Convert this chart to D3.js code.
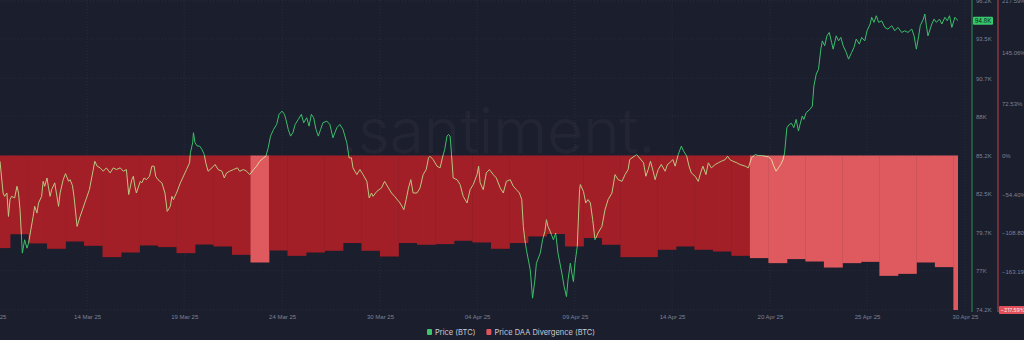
<!DOCTYPE html>
<html>
<head>
<meta charset="utf-8">
<script src="https://cdn.jsdelivr.net/npm/d3@7"></script>
<style>
  html, body { margin: 0; padding: 0; background: #1b1e2d; }
  svg { display: block; font-family: "Inter", "Roboto", sans-serif; }
</style>
</head>
<body>
<svg></svg>
<script>
// time window shown, UTC
const startTime = "2025-03-09T11:00:00Z";
const endTime   = "2025-04-30T06:00:00Z";

// x axis tick dates
const timeTicks = [
  "2025-03-09T01:00:00Z", "2025-03-14T04:00:00Z", "2025-03-19T10:00:00Z",
  "2025-03-24T17:00:00Z", "2025-03-30T00:00:00Z", "2025-04-04T06:00:00Z",
  "2025-04-09T13:00:00Z", "2025-04-14T19:00:00Z", "2025-04-20T02:00:00Z",
  "2025-04-25T08:00:00Z", "2025-04-30T15:00:00Z"
];

const priceTicks = [74.2, 77, 79.7, 82.5, 85.2, 88, 90.7, 93.5, 96.2];
const divergenceTicks = [-217.59, -163.19, -108.80, -54.40, 0, 72.53, 145.06, 217.59];

// daily Price DAA divergence (%), from 09 Mar 25 to 30 Apr 25
const divergenceStart = "2025-03-09T00:00:00Z";
const divergenceValues = [
  -130.4, -110.9, -123.8, -131.4, -121.1, -127.2, -143.1, -136.6, -126.7, -129.0,
  -137.5, -125.4, -128.1, -139.9, -150.7, -133.8, -141.3, -136.6, -134.2, -123.3,
  -134.2, -142.3, -123.3, -125.7, -124.8, -120.1, -122.5, -131.4, -123.3, -114.0,
  -110.6, -128.1, -116.3, -125.7, -143.1, -143.1, -132.8, -128.1, -132.8, -135.2,
  -141.3, -144.5, -151.6, -145.9, -149.3, -157.8, -151.6, -149.8, -169.5, -166.7,
  -150.7, -157.2, -217.59
];
// 1 = lighter red day
const divergenceLight = [
  0,0,0,0,0,0,0,0,0,0, 0,0,0,0,1,0,0,0,0,0,
  0,0,0,0,0,0,0,0,0,0, 0,0,0,0,0,0,0,0,0,0,
  0,1,1,1,1,1,1,1,1,1, 1,1,1
];

// BTC price: [hours after 09 Mar 25 00:00 UTC, price in thousands USD]
const priceStart = "2025-03-09T00:00:00Z";
const pricePoints = [
  [11,84.79],[15,82.53],[17,82.29],[20,82.53],[22,80.86],[24,82.06],[26,82.29],[30,82.18],[33,83.01],[35,82.53],
  [37,81.34],[40,78.25],[43,79.20],[46,78.60],[48,78.96],[51,79.91],[54,80.86],[56,81.58],[59,81.10],[61,81.82],
  [65,82.29],[67,83.36],[69,83.01],[72,83.60],[74,82.89],[76,82.29],[78,82.77],[82,83.25],[87,81.58],[89,82.53],
  [93,83.48],[96,83.91],[100,83.36],[102,83.48],[105,83.06],[107,82.29],[111,80.15],[115,80.86],[121,81.82],[127,82.77],
  [132,84.20],[134,84.79],[137,84.44],[141,84.32],[145,84.08],[149,84.32],[154,83.96],[158,84.32],[162,84.20],[167,84.32],
  [171,84.08],[175,84.20],[178,82.42],[182,83.48],[184,83.72],[186,83.01],[188,82.53],[193,83.36],[195,83.25],[198,83.60],
  [201,83.48],[205,83.72],[208,84.44],[211,84.44],[213,83.72],[216,83.48],[221,83.25],[225,82.53],[228,81.22],[232,81.58],
  [234,82.29],[236,82.06],[240,82.53],[245,83.25],[248,83.60],[251,83.96],[253,84.20],[257,84.68],[258,85.39],[261,86.11],
  [262,86.82],[264,86.11],[267,85.87],[270,85.87],[273,85.63],[276,85.27],[278,84.68],[281,84.08],[286,84.32],[290,84.56],
  [294,84.20],[299,84.08],[302,83.60],[305,83.96],[309,84.08],[314,84.20],[319,84.32],[322,84.08],[327,84.20],[331,84.08],
  [335,83.84],[340,84.20],[344,84.44],[348,84.79],[353,85.03],[356,85.15],[359,85.75],[362,86.58],[366,87.06],[370,87.41],
  [373,88.13],[377,88.36],[380,88.13],[382,87.77],[385,87.06],[388,86.58],[391,86.82],[394,87.41],[398,87.77],[402,88.13],
  [405,87.53],[409,87.89],[412,87.29],[415,88.13],[418,87.89],[421,87.06],[424,86.58],[427,87.06],[430,87.53],[435,87.65],
  [439,87.41],[443,86.46],[448,87.18],[452,87.41],[456,87.06],[461,86.11],[464,85.03],[467,85.03],[469,84.32],[474,83.84],
  [478,84.20],[482,83.84],[487,83.36],[490,82.18],[493,82.53],[495,82.29],[500,82.65],[506,82.89],[510,83.36],[515,82.89],
  [519,82.53],[523,82.29],[530,81.82],[535,81.34],[538,82.06],[541,82.89],[544,83.48],[547,82.53],[552,82.53],[556,82.89],
  [560,83.84],[564,84.20],[567,85.03],[569,85.15],[573,84.91],[578,84.44],[582,84.32],[585,85.03],[588,85.63],[591,86.58],
  [593,86.70],[595,86.58],[597,85.15],[599,83.60],[604,83.48],[608,83.13],[612,82.29],[617,81.82],[621,82.77],[625,83.13],
  [630,83.84],[632,84.44],[634,83.25],[638,82.77],[642,83.96],[646,84.20],[651,83.84],[655,83.60],[660,82.89],[664,82.53],
  [668,83.36],[673,83.48],[677,83.01],[681,82.77],[685,82.53],[688,82.06],[690,80.15],[692,79.20],[694,78.49],[699,77.06],
  [702,75.04],[705,76.34],[707,77.53],[712,78.25],[715,79.20],[718,79.79],[720,80.63],[722,80.15],[725,79.79],[729,79.20],
  [732,79.68],[735,78.25],[740,76.82],[743,75.86],[746,75.15],[748,76.34],[751,77.53],[753,76.82],[755,76.22],[757,77.53],
  [760,78.72],[763,82.77],[764,83.13],[768,82.65],[771,81.82],[774,82.06],[777,81.82],[780,80.63],[783,79.20],[787,79.68],
  [792,80.15],[796,81.34],[800,82.06],[805,82.53],[809,83.84],[813,83.48],[818,83.36],[822,83.84],[826,84.20],[828,84.91],
  [837,85.27],[846,84.68],[849,83.72],[852,84.20],[855,84.79],[859,83.96],[861,83.48],[865,84.20],[869,84.56],[874,84.08],
  [877,84.56],[880,84.68],[884,84.91],[887,84.44],[891,85.27],[895,85.87],[898,85.51],[902,85.15],[905,84.44],[908,83.96],
  [913,83.72],[917,83.36],[920,83.96],[923,84.44],[927,83.84],[930,84.68],[934,84.32],[939,84.56],[943,84.68],[947,84.79],
  [952,84.91],[955,85.15],[958,84.91],[962,84.79],[967,84.68],[971,84.56],[978,84.44],[982,84.32],[986,85.03],[991,85.27],
  [995,85.20],[999,85.20],[1004,85.15],[1008,85.10],[1012,84.91],[1015,84.44],[1018,84.08],[1021,84.32],[1024,84.56],[1027,84.91],
  [1029,85.39],[1032,87.18],[1035,87.41],[1038,87.49],[1041,87.18],[1044,87.77],[1047,86.94],[1049,87.41],[1052,88.01],[1054,87.77],
  [1057,88.25],[1062,88.49],[1065,88.72],[1067,90.15],[1070,90.99],[1073,91.34],[1076,92.77],[1078,93.36],[1081,93.01],[1084,93.72],
  [1087,93.96],[1090,93.25],[1092,92.77],[1096,93.72],[1099,93.36],[1102,93.61],[1105,93.01],[1109,92.54],[1112,92.06],[1116,92.54],
  [1119,92.89],[1122,93.49],[1126,93.13],[1129,93.61],[1133,93.36],[1136,94.08],[1140,94.56],[1142,95.04],[1145,94.68],[1148,95.15],
  [1151,94.68],[1155,94.79],[1159,94.32],[1163,94.20],[1168,94.44],[1172,94.08],[1176,94.32],[1181,93.96],[1185,94.08],[1189,93.96],
  [1194,94.20],[1197,93.72],[1200,92.77],[1203,93.72],[1205,94.44],[1209,94.91],[1211,95.27],[1213,94.44],[1215,93.72],[1220,94.56],
  [1223,94.91],[1226,94.68],[1230,94.91],[1233,94.56],[1237,95.04],[1240,94.79],[1243,95.15],[1246,94.32],[1250,95.04],[1254,94.79]
];

const legendItems = [
  { label: "Price (BTC)", color: "#3ec46d" },
  { label: "Price DAA Divergence (BTC)", color: "#e0545b" }
];

function draw() {
  const
    svgWidth  = 1024,
    svgHeight = 340;

  const svg = d3.select("svg")
    .attr("width" , svgWidth)
    .attr("height", svgHeight);

  const plot = { left: 0, top: 0, width: 958, height: 310 };
  const priceAxisX = 972, divAxisX = 998;

  const bg = "#1b1e2d", gridColor = "#282c3d", tickColor = "#7d8295";
  const darkRed = "#a31f27", lightRed = "#df5a5e", green = "#3bbf6a";

  svg.append("rect")
    .attr("width", svgWidth).attr("height", svgHeight)
    .attr("fill", bg);

  const parse = d3.isoParse;
  const xScale = d3.scaleUtc()
    .domain([parse(startTime), parse(endTime)])
    .range([plot.left, plot.left + plot.width]);
  const yPrice = d3.scaleLinear()
    .domain([priceTicks[0], priceTicks[priceTicks.length - 1]])
    .range([plot.height, 1]);
  const yDiv = d3.scaleLinear()
    .domain([divergenceTicks[0], divergenceTicks[divergenceTicks.length - 1]])
    .range([plot.height, 1]);

  svg.append("clipPath").attr("id", "plot-clip")
    .append("rect")
    .attr("x", plot.left).attr("y", 0)
    .attr("width", plot.width).attr("height", plot.height);

  // grid
  const grid = svg.append("g");
  grid.selectAll(".hgrid").data(priceTicks)
    .enter().append("line")
      .attr("x1", plot.left).attr("x2", plot.left + plot.width)
      .attr("y1", d => yPrice(d)).attr("y2", d => yPrice(d))
      .attr("stroke", gridColor)
      .attr("stroke-dasharray", "1 2");
  grid.selectAll(".vgrid").data(timeTicks.map(parse))
    .enter().append("line")
      .attr("x1", d => xScale(d)).attr("x2", d => xScale(d))
      .attr("y1", 0).attr("y2", plot.height)
      .attr("stroke", gridColor)
      .attr("stroke-dasharray", "1 2");

  // watermark
  svg.append("text")
    .attr("x", 498).attr("y", 153)
    .attr("text-anchor", "middle")
    .attr("font-size", 62)
    .attr("font-weight", 300)
    .attr("fill", "#ffffff")
    .attr("opacity", 0.03)
    .text(".santiment.");

  const plotG = svg.append("g").attr("clip-path", "url(#plot-clip)");

  // divergence bars, one per day
  const day0 = parse(divergenceStart);
  const bars = divergenceValues.map((v, i) => ({
    t0: d3.utcDay.offset(day0, i),
    t1: d3.utcDay.offset(day0, i + 1),
    v, light: divergenceLight[i] === 1
  }));
  plotG.selectAll(".bar").data(bars)
    .enter().append("rect")
      .attr("x", d => Math.max(xScale(d.t0), plot.left))
      .attr("width", d => Math.min(xScale(d.t1), plot.left + plot.width) - Math.max(xScale(d.t0), plot.left) + 0.4)
      .attr("y", yDiv(0))
      .attr("height", d => yDiv(d.v) - yDiv(0))
      .attr("fill", d => d.light ? lightRed : darkRed);

  // price line
  const p0 = parse(priceStart);
  const prices = pricePoints.map(([h, p]) => ({ t: d3.utcHour.offset(p0, h), p }));
  const lineGenerator = d3.line()
    .x(d => xScale(d.t))
    .y(d => yPrice(d.p));
  plotG.append("path")
    .attr("d", lineGenerator(prices))
    .attr("fill", "none")
    .attr("stroke", green)
    .attr("stroke-width", 1)
    .attr("stroke-linejoin", "round")
    .style("mix-blend-mode", "screen");

  // x axis
  const xAxis = d3.axisBottom(xScale)
    .tickValues(timeTicks.map(parse))
    .tickFormat(d3.utcFormat("%d %b %y"))
    .tickSize(0)
    .tickPadding(5);
  const xAxisG = svg.append("g")
    .attr("transform", `translate(0,${plot.height})`)
    .call(xAxis);
  xAxisG.select(".domain").remove();
  xAxisG.selectAll("text")
    .attr("fill", tickColor)
    .attr("font-size", 6);

  // price axis
  const priceAxis = d3.axisRight(yPrice)
    .tickValues(priceTicks)
    .tickFormat(d => `${d}K`)
    .tickSize(0).tickSizeOuter(0)
    .tickPadding(4);
  const priceAxisG = svg.append("g")
    .attr("transform", `translate(${priceAxisX},0)`)
    .call(priceAxis);
  priceAxisG.select(".domain")
    .attr("stroke", "#2f8f55")
    .attr("d", `M0,0V${plot.height + 2}`);
  priceAxisG.selectAll("text")
    .attr("fill", tickColor)
    .attr("font-size", 6);

  // divergence axis; the tick under the current value badge is covered by it
  const lastDiv = divergenceValues[divergenceValues.length - 1];
  const divAxis = d3.axisRight(yDiv)
    .tickValues(divergenceTicks.filter(d => d !== lastDiv))
    .tickFormat(d => d === 0 ? "0%" : `${d3.format(".2f")(d)}%`)
    .tickSize(0).tickSizeOuter(0)
    .tickPadding(4);
  const divAxisG = svg.append("g")
    .attr("transform", `translate(${divAxisX},0)`)
    .call(divAxis);
  divAxisG.select(".domain")
    .attr("stroke", "#c4434b")
    .attr("d", `M0,0V${plot.height + 2}`);
  divAxisG.selectAll("text")
    .attr("fill", tickColor)
    .attr("font-size", 6);

  // current value badges
  const lastPrice = prices[prices.length - 1].p;
  const priceBadge = svg.append("g")
    .attr("transform", `translate(${priceAxisX + 1},${yPrice(lastPrice)})`);
  priceBadge.append("rect")
    .attr("x", 0).attr("y", -4).attr("width", 20).attr("height", 8)
    .attr("rx", 1).attr("fill", "#35c96c");
  priceBadge.append("text")
    .attr("x", 10).attr("y", 0).attr("dy", "0.35em")
    .attr("text-anchor", "middle")
    .attr("font-size", 6).attr("fill", "#10231a")
    .text(`${d3.format(".1f")(lastPrice)}K`);

  const divBadge = svg.append("g")
    .attr("transform", `translate(${divAxisX + 1},${yDiv(lastDiv)})`);
  divBadge.append("rect")
    .attr("x", 0).attr("y", -4).attr("width", 26).attr("height", 8)
    .attr("rx", 1).attr("fill", "#e0505a");
  divBadge.append("text")
    .attr("x", 1.5).attr("y", 0).attr("dy", "0.35em")
    .attr("font-size", 5.4).attr("fill", "#ffe9ea")
    .text(`${d3.format(".2f")(lastDiv)}%`);

  // legend
  const legend = svg.append("g")
    .attr("transform", "translate(427,332)");
  let lx = 0;
  legendItems.forEach(item => {
    const g = legend.append("g").attr("transform", `translate(${lx},0)`);
    g.append("rect")
      .attr("x", 0).attr("y", -3).attr("width", 5).attr("height", 6)
      .attr("rx", 1).attr("fill", item.color);
    const t = g.append("text")
      .attr("x", 8).attr("y", 0).attr("dy", "0.35em")
      .attr("font-size", 7.5).attr("fill", "#c9ccd4")
      .text(item.label);
    lx += 8 + t.node().getComputedTextLength() + 11;
  });
}

draw();
</script>
</body>
</html>
